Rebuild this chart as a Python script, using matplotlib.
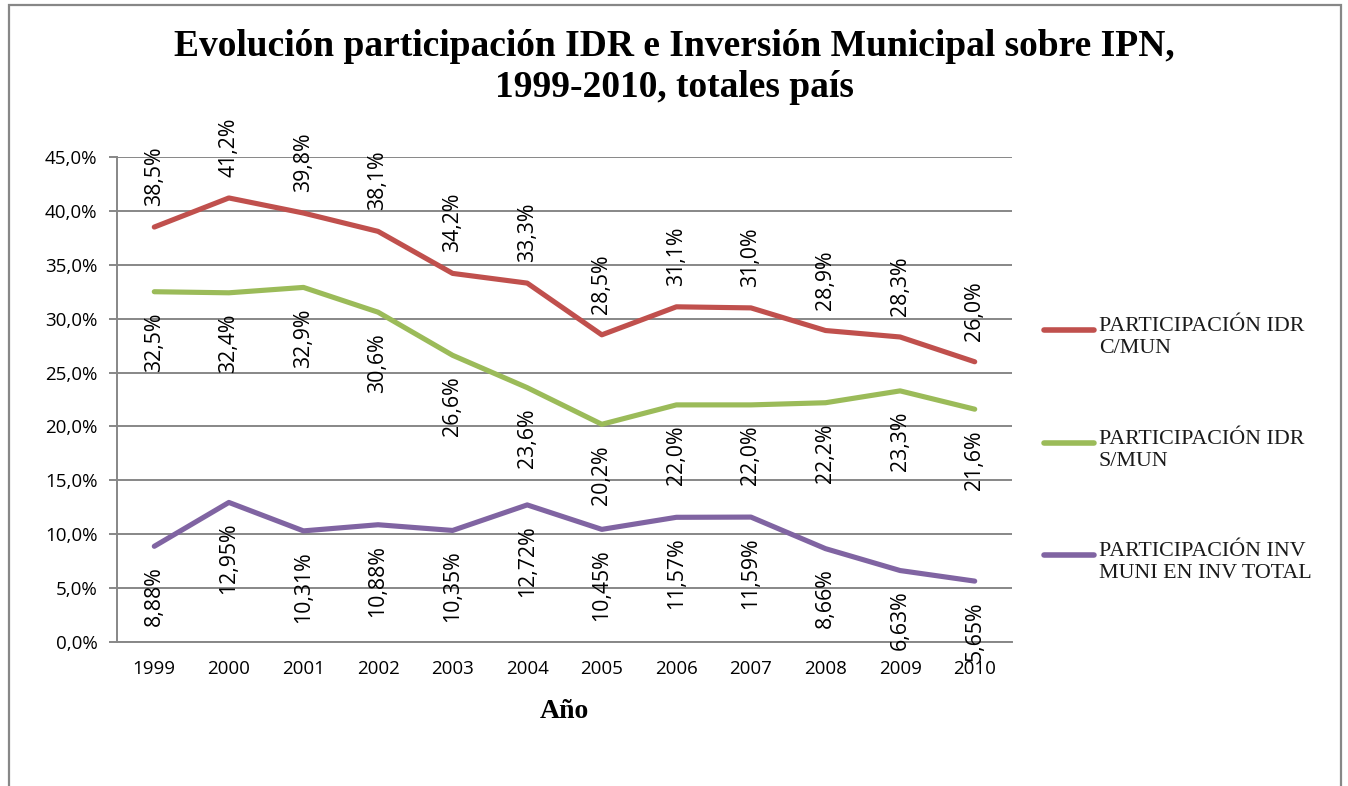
import matplotlib
matplotlib.use("Agg")
import matplotlib.pyplot as plt
from matplotlib.patches import Rectangle
from matplotlib.lines import Line2D
from matplotlib.ticker import FuncFormatter, MultipleLocator

years = ["1999", "2000", "2001", "2002", "2003", "2004", "2005", "2006", "2007", "2008", "2009", "2010"]
idr_c_mun = [38.5, 41.2, 39.8, 38.1, 34.2, 33.3, 28.5, 31.1, 31.0, 28.9, 28.3, 26.0]
idr_s_mun = [32.5, 32.4, 32.9, 30.6, 26.6, 23.6, 20.2, 22.0, 22.0, 22.2, 23.3, 21.6]
inv_muni = [8.88, 12.95, 10.31, 10.88, 10.35, 12.72, 10.45, 11.57, 11.59, 8.66, 6.63, 5.65]

series_names = ["PARTICIPACIÓN IDR\nC/MUN", "PARTICIPACIÓN IDR\nS/MUN", "PARTICIPACIÓN INV\nMUNI EN INV TOTAL"]
colors = ["#C0504D", "#9BBB59", "#8064A2"]
title = "Evolución participación IDR e Inversión Municipal sobre IPN,\n1999-2010, totales país"
xlabel = "Año"

W, H = 1348, 786
fig = plt.figure(figsize=(W / 100, H / 100), dpi=100)
fig.patch.set_facecolor("white")

# outer frame
fig.patches.append(Rectangle((9 / W, -0.2), (1341 - 9) / W, 1.2 - 5 / H,
                             transform=fig.transFigure, fill=False,
                             edgecolor="#878787", linewidth=1.6))

ax = fig.add_axes([117 / W, (H - 642) / H, (1012 - 117) / W, (642 - 157) / H])
x = list(range(len(years)))

lw = 3.7
all_series = [idr_c_mun, idr_s_mun, inv_muni]
for ser, col, name in zip(all_series, colors, series_names):
    ax.plot(x, ser, color=col, lw=lw, solid_capstyle="round", label=name, zorder=3)

sans = ["Open Sans", "DejaVu Sans"]
lab_font = dict(family=sans, fontsize=15.3, rotation=90, ha="center", color="black")
for xi, v in zip(x, idr_c_mun):
    ax.annotate(f"{v:.1f}%".replace(".", ","), (xi, v), xytext=(0, 21), textcoords="offset pixels",
                va="bottom", **lab_font)
for xi, v in zip(x, idr_s_mun):
    ax.annotate(f"{v:.1f}%".replace(".", ","), (xi, v), xytext=(0, -21), textcoords="offset pixels",
                va="top", **lab_font)
for xi, v in zip(x, inv_muni):
    ax.annotate(f"{v:.2f}%".replace(".", ","), (xi, v), xytext=(0, -20), textcoords="offset pixels",
                va="top", **lab_font)

ax.set_xlim(-0.5, len(years) - 0.5)
ax.set_ylim(0, 45)
ax.yaxis.set_major_locator(MultipleLocator(5))
ax.yaxis.set_major_formatter(FuncFormatter(lambda v, p: f"{v:.1f}%".replace(".", ",")))
ax.set_xticks(x)
ax.set_xticklabels(years)
ax.grid(axis="y", color="#878787", linewidth=1.4)
ax.set_axisbelow(True)
for s in ["top", "right"]:
    ax.spines[s].set_visible(False)
for s in ["left", "bottom"]:
    ax.spines[s].set_color("#878787")
    ax.spines[s].set_linewidth(1.4)
ax.tick_params(axis="y", length=6, width=1.4, color="#878787", pad=8)
ax.tick_params(axis="x", length=0, pad=13)
for t in ax.get_xticklabels() + ax.get_yticklabels():
    t.set_fontfamily(sans)
    t.set_fontsize(13.5)

ax.set_xlabel(xlabel, family="Liberation Serif", fontweight="bold", fontsize=20, labelpad=15)

fig.text(0.5, 1 - 67 / H, title, ha="center", va="center", family="Liberation Serif",
         fontweight="bold", fontsize=27, linespacing=1.24)

# legend (drawn manually so the handle lines up with the first text line)
leg_y = [330, 443, 555]
for name, col, yy in zip(series_names, colors, leg_y):
    yf = 1 - yy / H
    fig.add_artist(Line2D([1044 / W, 1094 / W], [yf, yf], transform=fig.transFigure,
                          color=col, lw=4, solid_capstyle="round"))
    fig.text(1099 / W, 1 - (yy - 13) / H, name, ha="left", va="top", family="Liberation Serif",
             fontsize=15.8, color="#1a1a1a", linespacing=1.2)

fig.savefig("out.png", dpi=100)
